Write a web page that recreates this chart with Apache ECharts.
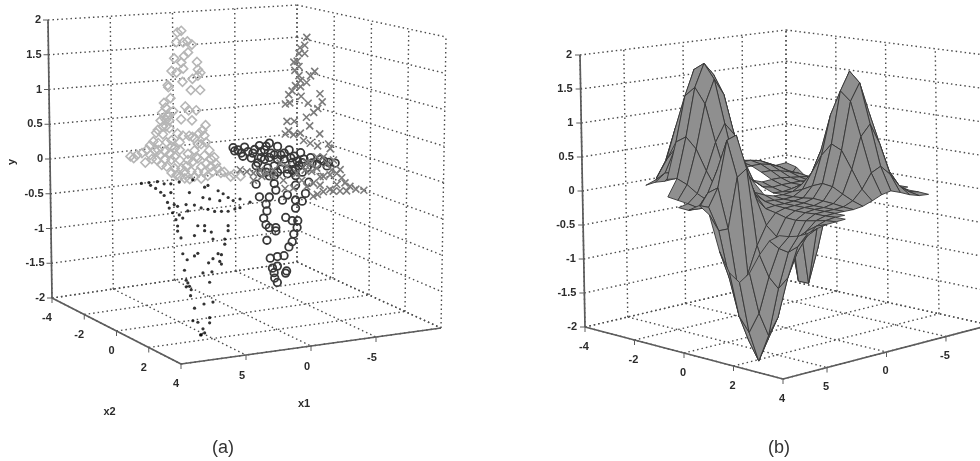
<!DOCTYPE html>
<html><head><meta charset="utf-8">
<script src="https://cdn.jsdelivr.net/npm/echarts@6/dist/echarts.min.js"></script>
<style>html,body{margin:0;padding:0;background:#fff}#c{width:980px;height:461px}#c canvas{filter:blur(.4px)}</style>
</head><body><div id="c"></div>
<script>
// ---------- tick labels ----------
const yTicks = [-2,-1.5,-1,-0.5,0,0.5,1,1.5,2];
const x2Ticks = [-4,-2,0,2,4];
const x1Ticks = [5,0,-5];
const x1LimitA = 10, x1LimitB = 8.7;

// ---------- panel (a): four classes ----------
const diamondX2 = -2;
const diamondX1 = [2.10,2.41,2.49,1.96,1.62,1.26,1.57,1.89,2.10,2.67,.86,.79,.60,.79,2.88,2.49,1.96,2.02,1.23,1.36,.62,3.19,3.14,2.98,3.50,3.37,3.64,2.77,1.80,1.54,.94,1.28,2.14,3.77,3.50,.20,.46,.72,1.51,1.25,2.43,3.08,3.34,4.00,4.13,3.60,2.92,3.31,3.97,4.36,4.62,4.88,5.27,5.67,6.19,5.93,5.01,4.49,4.10,3.70,3.31,3.44,3.05,2.66,2.26,1.61,1.09,.56,.17,-.09,-.48,.30,.82,1.22,1.61,.17,-.22,-.75,-1.27,-2.05,-2.58,2.92,2.53,2.13,1.74,1.35,1.09,.56,.04,2.26,1.87,1.48,3.97,4.62,4.23,2.92,2.66,2.26,2.92,2.26,2.00,.82,1.09,.30,.96,.56,-.22,-.62,.82,1.87,2.66,3.44,3.84,3.34,3.21,3.60,3.08,-1.79,-1.01,-.35,.30];
const diamondY = [1.90,1.88,1.74,1.73,1.74,1.69,1.58,1.53,1.44,1.51,1.43,1.32,1.27,1.23,1.33,1.30,1.35,1.16,1.19,1.03,1.02,1.13,1.10,.94,.88,.81,.74,.75,.80,.74,.73,.59,.62,.63,.67,.50,.43,.39,.37,.35,.42,.51,.54,.50,.46,.43,.33,.31,.31,.34,.29,.23,.19,.17,.16,.13,.05,.09,.07,-.01,-.04,.18,.14,.21,.18,.11,.15,.23,.25,.13,.02,.06,.03,-.01,.02,-.06,-.11,-.15,-.21,-.26,-.30,-.14,-.18,-.09,-.07,-.15,-.23,-.27,-.24,-.21,-.24,-.26,.21,.15,.21,.05,.09,.03,.24,.29,.38,.24,.32,.35,.05,-.10,.00,-.08,-.17,-.14,-.08,.06,.14,.63,.68,.54,.62,-.29,-.22,-.19,-.18];

const crossX2 = 0;
const crossX1 = [-4.97,-4.81,-4.44,-4.81,-4.37,-4.23,-3.97,-4.37,-4.05,-5.60,-5.28,-4.37,-4.97,-4.50,-4.10,-4.50,-3.84,-3.58,-4.55,-6.02,-6.20,-5.10,-5.86,-5.54,-4.97,-5.23,-3.32,-3.66,-4.02,-3.45,-3.58,-3.32,-3.97,-4.50,-6.02,-6.72,-5.86,-5.28,-4.76,-6.85,-6.98,-7.38,-7.77,-8.03,-8.42,-8.89,-9.52,-8.16,-6.85,-6.33,-5.86,-5.54,-6.33,-5.80,-5.41,-3.45,-2.93,-2.40,-1.88,-1.35,-.83,-.31,.22,-3.19,-3.32,-4.23,-4.89,-5.28,-6.59,-4.63,-6.07,-7.38,-3.97,-6.33,-7.11,-5.80,-5.02,-6.85,-7.64,-6.07,-5.54,-5.02,-7.11,-7.64,-2.40,-1.49,-.83];
const crossY = [1.84,1.73,1.70,1.61,1.62,1.51,1.50,1.43,1.38,1.34,1.28,1.30,1.19,1.23,1.16,1.14,1.09,1.04,1.00,1.01,.89,.89,.80,.75,.69,.56,.91,.92,.65,.66,.52,.48,.46,.47,.43,.27,.26,.31,.36,.20,-.11,-.17,-.24,-.32,-.38,-.43,-.46,-.44,-.39,-.41,-.44,-.46,-.19,-.06,-.10,.01,.07,-.02,-.05,.00,-.03,.00,.04,-.18,-.30,-.10,-.07,.02,-.01,-.21,-.31,-.33,-.31,.09,.03,.10,.03,-.18,-.12,-.19,-.27,-.31,-.42,-.43,-.11,-.09,-.13];

const circleX2 = -1.5;
const circleX1 = [-1.29,-2.20,-3.38,-4.17,-4.82,-5.74,-6.65,-7.44,-8.49,-9.40,-2.73,-3.25,-3.78,-4.30,-2.47,-3.51,-4.04,-4.56,-5.35,-5.87,-6.52,-7.18,-6.39,-7.96,-8.75,-3.51,-4.17,-4.56,-5.61,-5.08,-6.26,-7.31,-3.12,-6.26,-7.05,-4.69,-4.56,-4.17,-3.38,-5.61,-5.22,-6.26,-6.79,-6.26,-3.91,-3.98,-3.72,-5.48,-6.00,-6.44,-6.39,-4.69,-3.91,-4.17,-4.69,-6.13,-6.00,-5.74,-3.98,-5.35,-4.82,-4.25,-4.82,-4.43,-5.56,-5.48,-4.56,-4.61,-4.82,-1.68,-3.00,-3.78,-4.56,-5.08,-6.13,-6.92,-1.94,-4.82,-6.00,-6.79,-1.42,-2.07,-2.86,-3.91,-3.51,-4.17,-4.82,-5.35,-6.00,-6.79,-7.57,-8.23,-8.88,-3.12,-3.91,-5.61,-6.26];
const circleY = [.19,.18,.18,.20,.14,.07,.01,-.08,-.15,-.20,.01,-.07,-.03,.05,.11,.09,-.16,-.14,-.06,-.05,-.18,-.22,-.11,-.19,-.23,-.22,-.28,-.29,-.28,-.20,-.32,-.44,-.38,-.46,-.60,-.50,-.40,-.59,-.57,-.59,-.66,-.68,-.71,-.80,-.69,-.79,-.89,-.92,-.98,-.99,-1.09,-1.05,-.99,-1.04,-1.10,-1.18,-1.29,-1.36,-1.22,-1.48,-1.48,-1.49,-1.62,-1.64,-1.71,-1.74,-1.71,-1.79,-1.86,.15,.13,.11,.02,.01,-.03,-.09,.10,-.24,-.24,-.28,.14,.05,.08,.16,.00,-.01,-.05,.03,-.12,-.14,-.16,-.12,-.18,-.11,-.22,-.21,-.22];

const dotX2 = 1.5;
const dotX1 = [9.89,9.31,9.18,8.66,8.13,7.61,6.96,5.91,8.79,8.40,8.13,7.61,6.17,4.99,4.73,5.12,3.94,3.55,4.60,3.16,2.77,2.24,1.46,7.87,7.35,7.74,7.48,7.09,6.43,5.78,5.26,4.73,4.21,3.68,3.16,2.64,2.24,6.96,6.30,7.22,6.69,3.81,3.16,4.99,5.52,7.09,7.09,6.83,5.78,4.99,4.47,4.34,3.42,3.42,3.16,6.69,5.78,5.52,6.35,4.34,4.68,3.94,3.68,3.81,3.68,6.56,5.12,4.42,6.43,6.30,6.43,6.17,4.60,6.04,6.09,5.04,4.34,5.78,5.91,5.52,4.60,4.60,5.12,4.99,5.25,5.31];
const dotY = [.18,.18,.14,.18,.14,.13,.14,.15,.09,.03,-.02,.01,-.02,.03,.05,-.11,-.04,-.09,-.14,-.15,-.20,-.19,-.25,-.12,-.16,-.20,-.27,-.19,-.18,-.20,-.25,-.28,-.32,-.33,-.34,-.32,-.31,-.31,-.27,-.37,-.36,-.18,-.54,-.50,-.49,-.46,-.53,-.63,-.62,-.57,-.60,-.70,-.72,-.79,-.61,-.85,-.90,-.87,-.94,-.97,-1.02,-.91,-.93,-1.02,-1.06,-1.08,-1.15,-1.15,-1.22,-1.26,-1.31,-1.31,-1.29,-1.36,-1.44,-1.58,-1.57,-1.62,-1.79,-1.82,-1.78,-1.85,-1.92,-1.98,-2,-2];

// ---------- panel (b): surface heights, one row per x2 value ----------
const _ = null;
const surfaceX1 = [9,8.2,7.4,6.6,5.8,5,4.2,3.4,2.6,1.8,1,.2,-.6,-1.4,-2.2,-3,-3.8,-4.6,-5.4,-6.2,-7];
const surfaceX2 = [-3.2,-2.8,-2.4,-2,-1.6,-1.2,-.8,-.4,0,.4,.8,1.2,1.6,2,2.4,2.8,3.2,3.6,4];
const surfaceY = [
[_,_,_,_,_,.03,.05,.04,.05,.06,.07,.09,.11,.11,.09,.07,.05,.02,-.03,-.02,-.01],
[_,_,_,_,_,.14,.22,.2,.15,.11,.13,.16,.19,.19,.16,.12,.07,-.04,-.24,-.22,-.05],
[_,_,_,_,.22,.45,.6,.54,.36,.20,.19,.23,.26,.26,.23,.17,.08,-.25,-.85,-.70,-.18],
[_,_,_,_,.5,.95,1.25,1.1,.68,.33,.24,.27,.29,.29,.26,.19,.08,-.55,-1.70,-1.25,-.30],
[_,_,_,.28,.8,1.45,1.82,1.62,1.0,.42,.25,.24,.26,.26,.23,.17,.08,-.60,-1.70,-1.20,-.23],
[_,_,.08,.32,.9,1.6,1.93,1.75,1.12,.48,.22,_,.19,.19,.16,.12,.07,-.20,-.70,-.50,-.09],
[_,_,.06,.26,.75,1.38,1.72,1.48,.9,.38,.15,.10,.11,.11,.09,.07,.05,.01,-.06,-.06,-.01],
[_,.01,.04,.16,.46,.85,1.1,.92,.52,.20,.08,.05,.06,.06,.06,.04,.03,.01,.01,0,0],
[_,0,.01,.09,.22,.4,.5,.42,.22,_,.02,.01,.03,.06,.07,.05,.02,.01,0,0,0],
[.06,.05,.25,.55,.6,.35,.2,.13,.07,.03,.02,.04,.12,.24,.28,.20,.09,.02,0,0,0],
[.15,.10,.35,1.0,1.05,.5,.15,.03,.02,.01,.02,.10,.32,.62,.73,.53,.23,.06,.01,0,_],
[.05,-.20,-.20,.5,.6,.15,-.02,0,0,.01,.03,.18,.60,1.17,1.38,.99,.43,.11,.02,0,_],
[-.43,-.82,-1.05,-.83,-.46,-.20,-.05,-.01,0,.01,.05,.24,.79,1.54,1.81,1.30,.57,.15,.02,0,_],
[-.70,-1.33,-1.70,-1.46,-.85,-.33,-.09,-.02,0,0,.04,.22,.72,1.41,1.66,1.19,.52,.14,.02,0,_],
[-.80,-1.52,-1.95,-1.68,-.98,-.38,-.10,-.02,0,0,.03,.14,.47,.92,1.08,.77,.34,.09,.01,_,_],
[-.64,-1.22,-1.56,-1.34,-.78,-.30,-.08,-.01,0,0,.01,.07,.21,.42,.49,.35,.15,.04,.01,_,_],
[-.36,-.69,-.88,-.76,-.44,-.17,-.05,-.01,0,0,0,.02,.07,.13,.16,.11,.05,.01,0,_,_],
[-.14,-.27,-.35,-.30,-.18,-.07,-.02,0,0,_,_,_,_,_,_,_,_,_,_,_,_],
[-.04,-.08,-.10,-.09,-.05,-.02,-.01,0,_,_,_,_,_,_,_,_,_,_,_,_,_]
];

// ---------- view of each 3D box ----------
const viewA = {lim:x1LimitA, L:[[52,298],[48,20]], F:[[181,364],[181,64]], B:[[297,262],[297,5]], R:[[441,328],[446,37]]};
const viewB = {lim:x1LimitB, L:[[585,327],[580,55]], F:[[783,379],[783,85]], B:[[786,280],[786,30]], R:[[990,325],[985,55]]};

function project(v, x1, x2, y){
  const u=(v.lim-x1)/(2*v.lim), t=(x2+4)/8, w=(y+2)/4;
  return [0,1].map(k=>{
    const bot=(1-u)*((1-t)*v.L[0][k]+t*v.F[0][k])+u*((1-t)*v.B[0][k]+t*v.R[0][k]);
    const top=(1-u)*((1-t)*v.L[1][k]+t*v.F[1][k])+u*((1-t)*v.B[1][k]+t*v.R[1][k]);
    return bot+(top-bot)*w;
  });
}

function boxSegments(v, ticksX1){
  const dots=[], axes=[], lim=v.lim;
  const p=(a,b,c)=>project(v,a,b,c);
  const add=(arr,a,b)=>arr.push([a[0],a[1],b[0],b[1]]);
  yTicks.forEach(y=>{ add(dots,p(lim,-4,y),p(-lim,-4,y)); add(dots,p(-lim,-4,y),p(-lim,4,y)); });
  ticksX1.forEach(x=>{ add(dots,p(x,-4,-2),p(x,-4,2)); add(dots,p(x,-4,-2),p(x,4,-2)); });
  x2Ticks.forEach(t=>{ add(dots,p(-lim,t,-2),p(-lim,t,2)); add(dots,p(lim,t,-2),p(-lim,t,-2)); });
  add(axes,p(lim,-4,-2),p(lim,-4,2));
  add(axes,p(lim,-4,-2),p(lim,4,-2));
  add(axes,p(lim,4,-2),p(-lim,4,-2));
  const ticks=[];
  yTicks.forEach(y=>{const a=p(lim,-4,y); ticks.push([a[0],a[1],a[0]-5,a[1]]);});
  x2Ticks.forEach(t=>{const a=p(lim,t,-2); ticks.push([a[0],a[1],a[0],a[1]+5]);});
  x1Ticks.forEach(x=>{const a=p(x,4,-2); ticks.push([a[0],a[1],a[0],a[1]+5]);});
  return {dots,axes,ticks};
}

function segSeries(idx,data,stroke,lw,dash,z){
  return {type:'custom',xAxisIndex:idx,yAxisIndex:idx,silent:true,z,data,
    encode:{x:[0,2],y:[1,3]},
    renderItem(par,api){
      const a=api.coord([api.value(0),api.value(1)]),b=api.coord([api.value(2),api.value(3)]);
      return {type:'line',shape:{x1:a[0],y1:a[1],x2:b[0],y2:b[1]},
        style:{stroke,lineWidth:lw,lineDash:dash||null}};
    }};
}
function textSeries(idx,items,font){
  return {type:'custom',xAxisIndex:idx,yAxisIndex:idx,silent:true,z:9,
    data:items.map(o=>[o.x,o.y]),encode:{x:0,y:1},
    renderItem(par,api){
      const o=items[par.dataIndex],c=api.coord([api.value(0),api.value(1)]);
      return {type:'text',x:c[0],y:c[1],rotation:o.rot||0,
        style:{text:o.t,fill:'#2b2b2b',font:font,align:o.a||'center',verticalAlign:'middle'}};
    }};
}
function labelsFor(v,yOff,x2Off,x1Off){
  const lim=v.lim,out=[];
  yTicks.forEach(y=>{const a=project(v,lim,-4,y);out.push({t:String(y),x:a[0]+yOff[0],y:a[1]+yOff[1],a:'right'});});
  x2Ticks.forEach(t=>{const a=project(v,lim,t,-2);out.push({t:String(t),x:a[0]+x2Off[0],y:a[1]+x2Off[1]});});
  x1Ticks.forEach(x=>{const a=project(v,x,4,-2);out.push({t:String(x),x:a[0]+x1Off[0],y:a[1]+x1Off[1]});});
  return out;
}
function cloud(xs,ys,x2){ return xs.map((x,i)=>project(viewA,x,x2,ys[i])); }

// surface cells, painted from the far corner to the near one
const cells=[];
for(let r=0;r<surfaceX2.length-1;r++)for(let c=0;c<surfaceX1.length-1;c++){
  const q=[[r,c],[r,c+1],[r+1,c+1],[r+1,c]];
  if(q.some(([a,b])=>surfaceY[a][b]===null))continue;
  const pts=q.map(([a,b])=>project(viewB,surfaceX1[b],surfaceX2[a],surfaceY[a][b]));
  const depth=q.reduce((s,[a,b])=>s+project(viewB,surfaceX1[b],surfaceX2[a],-2)[1],0);
  cells.push({depth,v:pts.flat()});
}
cells.sort((a,b)=>a.depth-b.depth);

const boxA=boxSegments(viewA,[10,5,0,-5,-10]);
const boxB=boxSegments(viewB,[x1LimitB,5,0,-5,-x1LimitB]);
const labA=labelsFor(viewA,[-7,0],[-5,20],[-4,21]);
const labB=labelsFor(viewB,[-8,0],[-1,20],[-1,19]);
const yAnchor=project(viewA,10,-4,0),x2Anchor=project(viewA,10,0,-2),x1Anchor=project(viewA,0,4,-2);
labA.push({t:'y',x:yAnchor[0]-38,y:yAnchor[1]+3,rot:Math.PI/2});
labA.push({t:'x2',x:x2Anchor[0]-7,y:x2Anchor[1]+81});
labA.push({t:'x1',x:x1Anchor[0]-7,y:x1Anchor[1]+58});

const hidden=(min,max,inv)=>({type:'value',min,max,inverse:!!inv,show:false,splitLine:{show:false}});
const EMPTY={color:'rgba(255,255,255,0)'};
const LABEL_FONT='bold 11px "Liberation Sans"';
const CAPTION={fontFamily:'Liberation Sans',fontWeight:'normal',fontSize:18,color:'#333'};
const DOT_COLOR='#4c4c4c', DOT_DASH=[1.5,3];

const option={
  animation:false,backgroundColor:'#fff',
  title:[
    {text:'(a)',left:218,top:434,textAlign:'center',textStyle:CAPTION},
    {text:'(b)',left:774,top:434,textAlign:'center',textStyle:CAPTION}
  ],
  grid:[{left:0,top:0,width:490,height:461},{left:490,top:0,width:490,height:461}],
  xAxis:[hidden(0,490),{...hidden(490,980),gridIndex:1}],
  yAxis:[hidden(0,461,true),{...hidden(0,461,true),gridIndex:1}],
  series:[
    segSeries(0,boxA.dots,DOT_COLOR,1.4,DOT_DASH,1),
    segSeries(0,boxA.axes,'#5c5c5c',1.7,null,2),
    segSeries(0,boxA.ticks,'#5c5c5c',1,null,2),
    {type:'scatter',xAxisIndex:0,yAxisIndex:0,silent:true,z:3,data:cloud(diamondX1,diamondY,diamondX2),symbol:'diamond',symbolSize:9,
      itemStyle:{...EMPTY,borderColor:'#b6b6b6',borderWidth:1.6,opacity:1}},
    {type:'scatter',xAxisIndex:0,yAxisIndex:0,silent:true,z:4,data:cloud(circleX1,circleY,circleX2),symbol:'circle',symbolSize:7.5,
      itemStyle:{...EMPTY,borderColor:'#383838',borderWidth:1.8,opacity:1}},
    {type:'scatter',xAxisIndex:0,yAxisIndex:0,silent:true,z:5,data:cloud(crossX1,crossY,crossX2),symbol:'path://M0 0L10 10M10 0L0 10',symbolSize:7,
      itemStyle:{...EMPTY,borderColor:'#7b7b7b',borderWidth:1.6,opacity:1}},
    {type:'scatter',xAxisIndex:0,yAxisIndex:0,silent:true,z:6,data:cloud(dotX1,dotY,dotX2),symbol:'circle',symbolSize:3.2,
      itemStyle:{color:'#000'}},
    textSeries(0,labA,LABEL_FONT),
    segSeries(1,boxB.dots,DOT_COLOR,1.4,DOT_DASH,1),
    segSeries(1,boxB.axes,'#5c5c5c',1.7,null,2),
    segSeries(1,boxB.ticks,'#5c5c5c',1,null,2),
    {type:'custom',xAxisIndex:1,yAxisIndex:1,silent:true,z:3,data:cells.map(c=>c.v),encode:{x:[0,2,4,6],y:[1,3,5,7]},
      renderItem(par,api){
        const pts=[0,2,4,6].map(i=>api.coord([api.value(i),api.value(i+1)]));
        return {type:'polygon',shape:{points:pts},style:{fill:'#8f8f8f',stroke:'#353535',lineWidth:.9}};
      }},
    textSeries(1,labB,LABEL_FONT)
  ]
};
echarts.init(document.getElementById('c'),null,{renderer:'canvas'}).setOption(option);
</script></body></html>
